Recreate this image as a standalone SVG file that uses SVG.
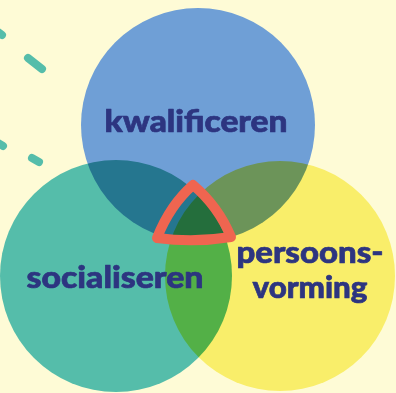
<svg xmlns="http://www.w3.org/2000/svg" width="396" height="393" viewBox="0 0 396 393">
<style>
.lbl{font-family:"Lato","Open Sans","Liberation Sans",sans-serif;font-weight:900;fill:#2d3580;stroke:#2d3580;stroke-width:0.7;stroke-linejoin:round;font-size:30px}
.dash{stroke:#55bdaa;stroke-width:8;stroke-linecap:round;fill:none}
</style>
<rect width="396" height="393" fill="#fefbd6"/>
<g id="dashes">
<line class="dash" x1="-2" y1="32" x2="2" y2="35"/>
<line class="dash" x1="28" y1="58" x2="42" y2="69"/>
<line class="dash" x1="-2" y1="143" x2="3" y2="146"/>
<line class="dash" x1="32" y1="158" x2="39" y2="162"/>
</g>
<g style="isolation:isolate">
<g id="kwalificeren"><circle cx="198" cy="125" r="117" fill="#6f9fd6" style="mix-blend-mode:multiply"/></g>
<g id="socialiseren"><circle cx="116" cy="276" r="116" fill="#55bdaa" style="mix-blend-mode:multiply"/></g>
<g id="persoonsvorming"><circle cx="280" cy="276" r="115" fill="#f9ee6a" style="mix-blend-mode:multiply"/></g>
</g>
<g id="center">
<path d="M193,185 Q170,205 157,238 Q194,243 231,237 Q218,206 193,185 Z" fill="none" stroke="#ef6550" stroke-width="10" stroke-linejoin="round"/>
</g>
<g id="labels">
<text class="lbl" x="196" y="132" text-anchor="middle" textLength="183" lengthAdjust="spacingAndGlyphs">kwalificeren</text>
<text class="lbl" x="115" y="288" text-anchor="middle" textLength="177" lengthAdjust="spacingAndGlyphs">socialiseren</text>
<text class="lbl" x="310" y="263" text-anchor="middle" textLength="147" lengthAdjust="spacingAndGlyphs">persoons-</text>
<text class="lbl" x="310" y="298" text-anchor="middle" textLength="115" lengthAdjust="spacingAndGlyphs">vorming</text>
</g>
</svg>
